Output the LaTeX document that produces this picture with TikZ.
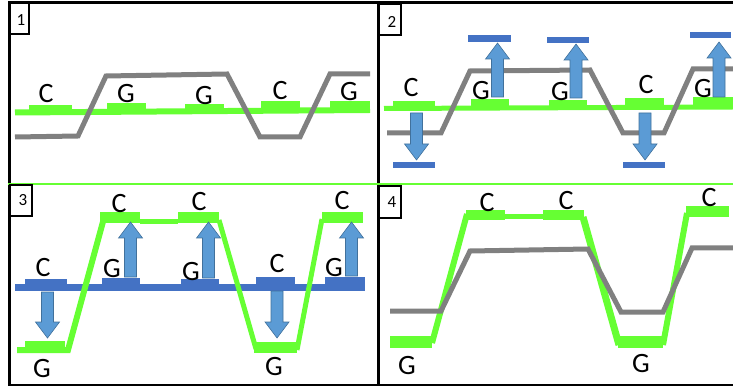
\documentclass[tikz,border=0pt]{standalone}
\usepackage{fontspec}
\setmainfont{Carlito}
\definecolor{strandgreen}{HTML}{66FF33}
\definecolor{strandgrey}{HTML}{808080}
\definecolor{barblue}{HTML}{4472C4}
\definecolor{arrowfill}{HTML}{5B9BD5}
\definecolor{arrowedge}{HTML}{41719C}

% block arrows: x, start y, tip y
\newcommand{\blockup}[3]{%
  \filldraw[blockarrow] (#1-6,#2) -- (#1-6,#3+16) -- (#1-12,#3+16) -- (#1,#3)
    -- (#1+12,#3+16) -- (#1+6,#3+16) -- (#1+6,#2) -- cycle;}
\newcommand{\blockdown}[3]{%
  \filldraw[blockarrow] (#1-6,#2) -- (#1-6,#3-16) -- (#1-12,#3-16) -- (#1,#3)
    -- (#1+12,#3-16) -- (#1+6,#3-16) -- (#1+6,#2) -- cycle;}

\begin{document}
\begin{tikzpicture}[x=1pt,y=-1pt,
    greystrand/.style={draw=strandgrey,line width=5pt},
    greenstrand/.style={draw=strandgreen,line width=5pt},
    blockarrow/.style={fill=arrowfill,draw=arrowedge,line width=0.6pt},
    base/.style={font=\fontsize{28}{28}\selectfont,inner sep=0pt},
    numlabel/.style={font=\fontsize{17}{17}\selectfont,inner sep=0pt}]
\useasboundingbox (0,0) rectangle (733,387);

% рамки
            \draw [line width=3pt] (8,3) -- (733,3);
            \draw [line width=3pt] (9,2) -- (9,386);
            \draw [line width=3pt] (378,2) -- (378,386);
            \draw [line width=2.5pt] (8,385) -- (733,385);
            \draw [strandgreen,line width=2.5pt] (8,184) -- (733,184);

% номера
            \draw [line width=1.2pt] (9,3) rectangle (29,34);
            \node [numlabel] (n1) at (21,20.5) {1};
            \draw [line width=1.2pt] (378,4) rectangle (401,35);
            \node [numlabel] (n2) at (392,21.5) {2};
            \draw [line width=1.2pt] (10,185) rectangle (32,216);
            \node [numlabel] (n3) at (23,200) {3};
            \draw [line width=1.2pt] (379,186) rectangle (401,218);
            \node [numlabel] (n4) at (392,202) {4};

% панель 1
            \draw [greenstrand,line width=6pt] (15,112.5) -- (370,110);
            \fill [strandgreen] (29,105) rectangle (72,111);
            \fill [strandgreen] (107,103) rectangle (146,111);
            \fill [strandgreen] (185,104) rectangle (224,111);
            \fill [strandgreen] (261,101) rectangle (300,110);
            \fill [strandgreen] (330,101) rectangle (370,110);
            \draw [greystrand] (15,137) -- (78,136) -- (106,76) -- (227,74) -- (260,137) -- (300,137) -- (330,74) -- (370,74);
            \node [base] (p1c1) at (46,94) {C};
            \node [base] (p1g1) at (126,94) {G};
            \node [base] (p1g2) at (204,96) {G};
            \node [base] (p1c2) at (280,91) {C};
            \node [base] (p1g3) at (349,92) {G};

% панель 2
            \draw [greenstrand] (384,108.5) -- (733,107);
            \fill [strandgreen] (393,101) rectangle (435,107);
            \fill [strandgreen] (471,99) rectangle (509,107);
            \fill [strandgreen] (549,100) rectangle (587,107);
            \fill [strandgreen] (625,98) rectangle (664,107);
            \fill [strandgreen] (693,97) rectangle (733,107);
            \draw [greystrand] (387,133) -- (441,133) -- (470,71) -- (590,70) -- (623,133) -- (664,133) -- (693,69) -- (733,69);
            \fill [barblue] (393,162) rectangle (435,168);
            \fill [barblue] (468,35) rectangle (511,42);
            \fill [barblue] (547,37) rectangle (589,43);
            \fill [barblue] (623,162) rectangle (665,168);
            \fill [barblue] (690,32) rectangle (731,38);
            \blockdown{416.5}{113}{160}
            \blockup{497.5}{97}{43}
            \blockup{576}{98}{44}
            \blockdown{645}{113}{160}
            \blockup{719}{97}{42}
            \node [base] (p2c1) at (411,88) {C};
            \node [base] (p2g1) at (481,91) {G};
            \node [base] (p2g2) at (560,92) {G};
            \node [base] (p2c2) at (646,85) {C};
            \node [base] (p2g3) at (703,89) {G};

% панель 3
            \draw [barblue,line width=7pt] (15,287.5) -- (365,287.5);
            \fill [barblue] (25,279) rectangle (67,285);
            \fill [barblue] (102,278) rectangle (140,285);
            \fill [barblue] (181,279) rectangle (219,285);
            \fill [barblue] (256,277) rectangle (295,285);
            \fill [barblue] (325,277) rectangle (365,285);
            \draw [greenstrand,line width=6pt] (17,350) -- (68,350) -- (104,218);
            \fill [strandgreen] (25,341) rectangle (65,350);
            \fill [strandgreen] (100,212) rectangle (140,223);
            \draw [greenstrand] (140,221.5) -- (178,221.5);
            \fill [strandgreen] (178,212) rectangle (219,223);
            \draw [greenstrand] (219,220) -- (256,349);
            \fill [strandgreen] (254,342) rectangle (297,353);
            \draw [greenstrand] (297,350) -- (322,219);
            \fill [strandgreen] (322,212) rectangle (363,223);
            \blockup{130.5}{277}{222}
            \blockup{208.5}{278}{222}
            \blockup{351.5}{276}{222}
            \blockdown{47.5}{292}{338}
            \blockdown{277}{291}{338}
            \node [base] (p3c1) at (43,268) {C};
            \node [base] (p3g1) at (112,269) {G};
            \node [base] (p3g2) at (191,272) {G};
            \node [base] (p3c2) at (277,264) {C};
            \node [base] (p3g3) at (334,268) {G};
            \node [base] (p3c3) at (119,204) {C};
            \node [base] (p3c4) at (199,202) {C};
            \node [base] (p3c5) at (342,201) {C};
            \node [base] (p3g4) at (42,369) {G};
            \node [base] (p3g5) at (274,367) {G};

% панель 4
            \fill [strandgreen] (390,336) rectangle (432,348);
            \draw [greenstrand,line width=6pt] (432,343) -- (467,214);
            \fill [strandgreen] (466,210) rectangle (505,220);
            \draw [greenstrand] (505,216.5) -- (543,216.5);
            \fill [strandgreen] (543,210) rectangle (584,220);
            \draw [greenstrand,line width=7pt] (583,217) -- (619,345);
            \fill [strandgreen] (618,336) rectangle (663,348);
            \draw [greenstrand,line width=6pt] (663,345) -- (687,213);
            \fill [strandgreen] (686,206) rectangle (729,217);
            \draw [greystrand] (390,311) -- (441,311) -- (470,251) -- (588,249) -- (621,312) -- (663,312) -- (692,248) -- (733,248);
            \node [base] (p4c1) at (487,203) {C};
            \node [base] (p4c2) at (566,201) {C};
            \node [base] (p4c3) at (709,198) {C};
            \node [base] (p4g1) at (407,366) {G};
            \node [base] (p4g2) at (641,364) {G};
\end{tikzpicture}
\end{document}
